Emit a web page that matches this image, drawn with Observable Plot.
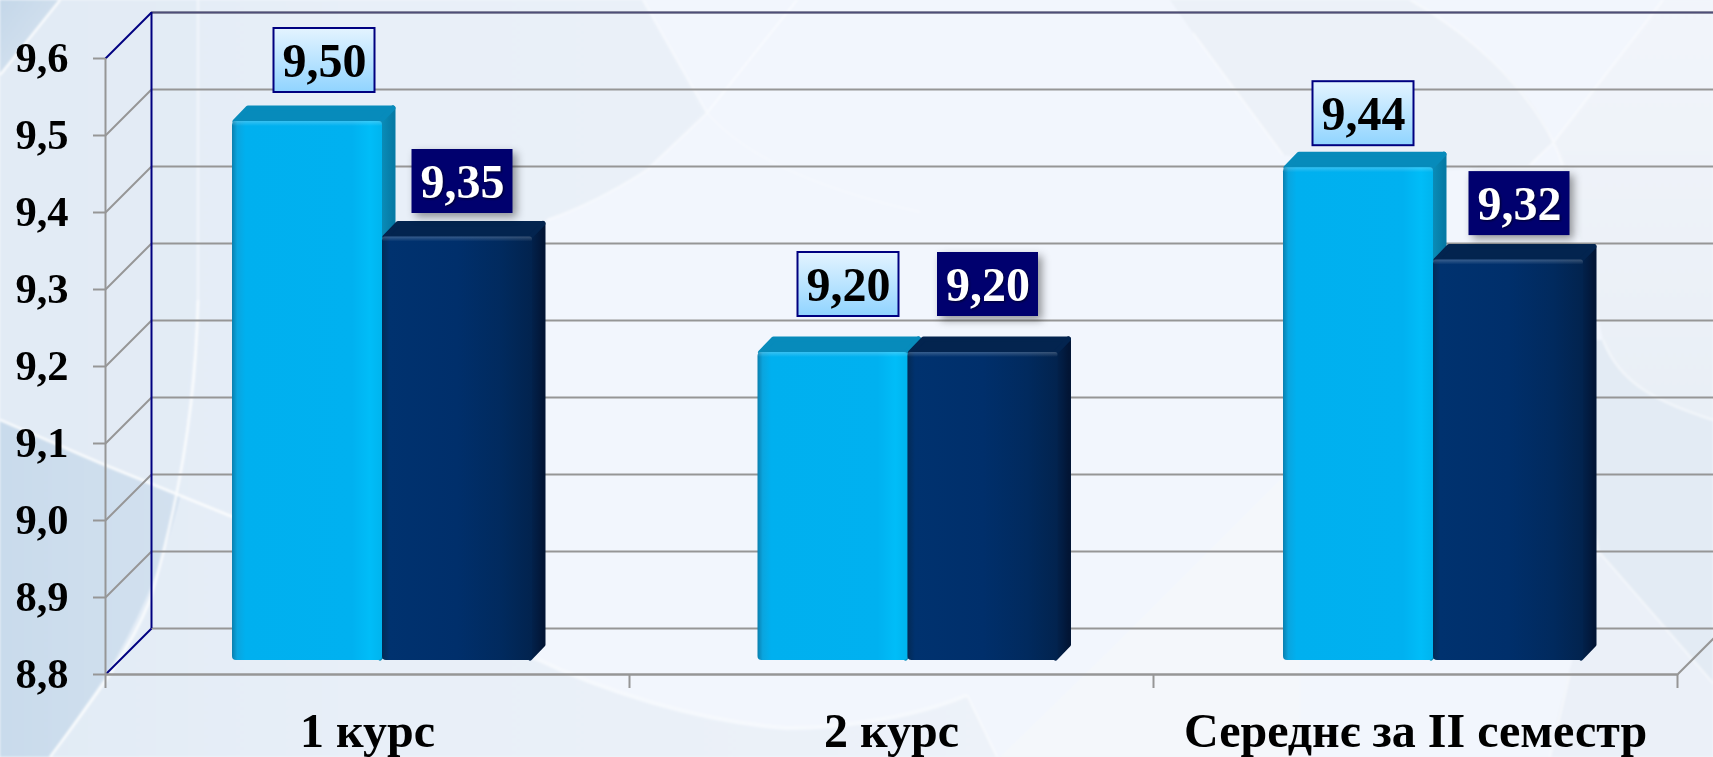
<!DOCTYPE html>
<html><head><meta charset="utf-8">
<script src="https://cdn.jsdelivr.net/npm/d3@7"></script>
<script src="https://cdn.jsdelivr.net/npm/@observablehq/plot@0.6"></script>
<style>
html,body{margin:0;padding:0;width:1713px;height:757px;overflow:hidden;background:#f2f6fd}
#bg{position:absolute;left:0;top:0;z-index:0;filter:blur(.8px)}
#chart{position:absolute;left:0;top:0;z-index:1}
</style></head>
<body>
<svg id="bg" width="1713" height="757" viewBox="0 0 1713 757">
<defs>
<linearGradient id="leftZone" x1="0" y1="0" x2="1" y2="0">
<stop offset="0" stop-color="#e1ebf5"/><stop offset=".35" stop-color="#e8eff8"/><stop offset="1" stop-color="#edf2f9"/>
</linearGradient>
<linearGradient id="corner" x1="0" y1="0" x2="1" y2="1">
<stop offset="0" stop-color="#c4d7e9"/><stop offset="1" stop-color="#dbe6f2"/>
</linearGradient>
<linearGradient id="low" x1="0" y1="0" x2="1" y2="0">
<stop offset="0" stop-color="#c9dbec"/><stop offset="1" stop-color="#d3e1ef"/>
</linearGradient>
<linearGradient id="rightTop" x1="0" y1="0" x2="0" y2="1">
<stop offset="0" stop-color="#f2f5fb"/><stop offset="1" stop-color="#e9eff6"/>
</linearGradient>
</defs>
<rect width="1713" height="757" fill="#f2f6fd"/>
<path d="M0,0H643L707,113L647,170C600,200 570,212 547,220C480,280 470,500 533,657C600,690 700,722 787,728C850,728 920,715 967,695L997,757H0Z" fill="url(#leftZone)"/>
<path d="M197,0H0V420L100,463L180,497L197,300Z" fill="#e2ebf5" opacity=".7"/>
<path d="M0,0H60L0,75Z" fill="url(#corner)"/>
<path d="M0,420L100,463L180,497C165,560 140,620 103,680L50,757H0Z" fill="url(#low)"/>
<path d="M533,657C600,690 700,722 787,728C850,728 920,715 967,695" fill="none" stroke="#f6f9fd" stroke-width="4"/>
<path d="M1170,0L1193,33L1283,155L1420,172L1530,165L1553,143C1540,100 1480,40 1410,0Z" fill="#ecf1f8"/>
<path d="M1553,143L1663,0H1713V420C1660,403 1620,385 1603,340L1563,165Z" fill="url(#rightTop)"/>
<path d="M1603,340C1620,385 1660,403 1713,420V683L1600,553L1560,340Z" fill="#e3ebf4"/>
<path d="M1600,553L1713,683V757H1550C1555,720 1570,673 1600,553Z" fill="#ebf0f8"/>
<path d="M1000,757L1120,640L1300,460L1300,757Z" fill="#f4f7fb"/>
<g fill="none" stroke="#fff" stroke-width="2.5" opacity=".85">
<path d="M60,0L0,75"/>
<path d="M0,420L100,463L233,517"/>
<path d="M198,300C196,400 180,500 150,600C130,650 100,690 50,757"/>
</g>
<g fill="none" stroke="#fff" stroke-width="2.5" opacity=".45">
<path d="M198,0V300"/>
<path d="M967,695L997,757"/>
<path d="M643,0L707,113"/>
<path d="M797,0L707,113L647,170C600,200 570,212 547,220"/>
<path d="M707,113C740,150 800,185 920,212" opacity=".5"/>
<path d="M1193,33L1283,155"/>
<path d="M1410,0C1480,40 1540,100 1563,165"/>
<path d="M1663,0L1553,143L1530,165"/>
<path d="M1603,340C1620,385 1660,403 1713,420"/>
<path d="M1600,553L1713,683"/>
<path d="M1570,673L1550,757"/>
</g>
</svg>
<div id="chart"></div>
<script>
// --- data ---
const categories = ["1 курс", "2 курс", "Середнє за II семестр"];
const seriesA = [9.50, 9.20, 9.44];
const seriesB = [9.35, 9.20, 9.32];
const yTicks = [8.8, 8.9, 9.0, 9.1, 9.2, 9.3, 9.4, 9.5, 9.6];
const xBoundaries = [0, 1, 2, 3];

// --- layout (px) ---
const W = 1713, H = 757;
const left = 105, right = 1677, top0 = 58, bottom0 = 674;
const pxX = (right - left) / 3, pxY = (bottom0 - top0) / 0.8;
const wall = 46, barNear = 14, barFar = 30, sideW = 13, round = 2.5;
const barW = 150, barInset = 113, barDrift = 1.5;
const fmt = v => v.toFixed(2).replace(".", ",");
const ux = p => p / pxX, uy = p => p / pxY;
const yMin = 8.8, yMax = 9.6;

// per-label nudges of the value boxes from the bar's centre (dx, gap above the bar's back edge)
const labelNudgeA = [[17, 13], [15.5, 20], [5, 6]];
const labelNudgeB = [[5, 7.5], [5, 20], [11, 8.5]];
const boxW = 101, boxH = 64;

function faces(i, v, s) {
  const x0 = i + ux(barNear + barInset + i * barDrift + s * barW), x1 = x0 + ux(barW);
  const yT = v + uy(barNear), yB = yMin + uy(barNear);
  const dx = ux(sideW), dy = uy(barFar - barNear);
  const rx = ux(round), ry = uy(round);
  const side = [[x1 - rx, yT], [x1 + dx - rx, yT + dy - ry], [x1 + dx - rx, yB + dy], [x1 - rx, yB + ry], [x1 - rx, yT]];
  const top = [[x0 + rx, yT], [x0 + dx + rx, yT + dy - ry], [x1 + dx - rx, yT + dy - ry], [x1 - rx, yT], [x0 + rx, yT]];
  return {x0, x1, yT, yB, sheen: yT - uy(5), side, top, i};
}
const polyRows = (fn, s, vals) => vals.flatMap((v, i) => fn(faces(i, v, s)).map(p => ({x: p[0], y: p[1], k: i})));

function barMarks(vals, s, fillFront, fillSide, fillTop) {
  const rects = vals.map((v, i) => faces(i, v, s));
  const poly = (f, c) => Plot.line(polyRows(f, s, vals), {x: "x", y: "y", z: "k", fill: c, stroke: c, strokeWidth: round * 2, strokeLinejoin: "round"});
  return [
    poly(d => d.side, fillSide),
    poly(d => d.top, fillTop),
    Plot.rect(rects, {x1: "x0", x2: "x1", y1: "yB", y2: "yT", fill: fillFront, r: 4}),
    Plot.rect(rects, {x1: "x0", x2: "x1", y1: "sheen", y2: "yT", fill: "url(#sheen)", r: 3})
  ];
}

function labelRows(vals, s, nudge) {
  return vals.map((v, i) => {
    const f = faces(i, v, s);
    const cx = (f.x0 + f.x1) / 2 + ux(nudge[i][0]);
    const bottom = v + uy(barFar + nudge[i][1]);
    return {cx, x1: cx - ux(boxW / 2), x2: cx + ux(boxW / 2), y1: bottom, y2: bottom + uy(boxH), cy: bottom + uy(boxH / 2), t: fmt(v)};
  });
}
const rowsA = labelRows(seriesA, 0, labelNudgeA);
const rowsB = labelRows(seriesB, 1, labelNudgeB);

const defs = () => {
  const d = d3.create("svg:defs");
  const grad = (id, stops, v) => {
    const g = d.append("linearGradient").attr("id", id).attr("x1", 0).attr("y1", 0).attr("x2", v ? 0 : 1).attr("y2", v ? 1 : 0);
    stops.forEach(([o, c, a]) => { const st = g.append("stop").attr("offset", o).attr("stop-color", c); if (a !== undefined) st.attr("stop-opacity", a); });
  };
  grad("frontA", [[0, "#0a7fae"], [.035, "#0aa5df"], [.09, "#00b0ef"], [.8, "#00b1f0"], [.92, "#00bdf8"], [1, "#00b4ee"]]);
  grad("frontB", [[0, "#032a55"], [.05, "#00326f"], [.5, "#002f6b"], [.8, "#012a5e"], [1, "#02234e"]]);
  grad("sideA", [[0, "#0a8fbb"], [1, "#067aa5"]]);
  grad("sideB", [[0, "#02234e"], [.6, "#021b40"], [1, "#021535"]]);
  grad("sheen", [[0, "#ffffff", .22], [1, "#ffffff", 0]], true);
  grad("boxA", [[0, "#e4f4ff"], [1, "#90d4ff"]], true);
  return d.node();
};

const wallX = ux(wall), wallY = uy(wall);
const grey = "#969696", navy = "#000080";

const chart = Plot.plot({
  width: W, height: H,
  marginLeft: left, marginRight: W - right, marginTop: top0, marginBottom: H - bottom0,
  style: {background: "transparent", fontFamily: "'Liberation Serif', serif", color: "#000"},
  x: {type: "linear", domain: [0, 3], range: [left, right], axis: null},
  y: {type: "linear", domain: [yMin, yMax], range: [bottom0, top0], axis: null},
  marks: [
    defs,
    // back wall grid
    Plot.ruleY(yTicks, {y: d => d + wallY, x1: wallX, x2: 3 + wallX * 2, stroke: grey, strokeWidth: 2}),
    Plot.ruleY([yMax], {y: d => d + wallY, x1: wallX, x2: 3 + wallX * 2, stroke: "#4e4e78", strokeWidth: 2}),
    // side wall
    Plot.link(yTicks, {x1: 0, y1: d => d, x2: wallX, y2: d => d + wallY, stroke: d => (d === yMin || d === yMax) ? navy : grey, strokeWidth: 2}),
    Plot.ruleX([wallX], {y1: yMin + wallY, y2: yMax + wallY, stroke: navy, strokeWidth: 2}),
    // floor edge at right
    Plot.link([yMin], {x1: 3, y1: d => d, x2: 3 + wallX, y2: d => d + wallY, stroke: grey, strokeWidth: 2}),
    // axes
    Plot.axisY(yTicks, {anchor: "left", tickSize: 12, tickPadding: 25, stroke: grey, strokeWidth: 2, tickFormat: d => d.toFixed(1).replace(".", ","), fontSize: 42.5, fontWeight: "bold", fill: "#000", fontFamily: "Liberation Serif", label: null, textStroke: "none"}),
    Plot.ruleX([0], {y1: yMin, y2: yMax, stroke: grey, strokeWidth: 2}),
    Plot.ruleY([yMin], {x1: 0, x2: 3, stroke: grey, strokeWidth: 2.5}),
    Plot.ruleX(xBoundaries, {x: d => d, y1: yMin, y2: yMin - uy(14), stroke: grey, strokeWidth: 2}),
    // bars
    ...barMarks(seriesA, 0, "url(#frontA)", "url(#sideA)", "#078bbb"),
    ...barMarks(seriesB, 1, "url(#frontB)", "url(#sideB)", "#03244f"),
    // value boxes
    Plot.rect(rowsA, {x1: "x1", x2: "x2", y1: "y1", y2: "y2", fill: "url(#boxA)", stroke: navy, strokeWidth: 2}),
    Plot.rect(rowsB, {x1: "x1", x2: "x2", y1: "y1", y2: "y2", fill: "#00006e", imageFilter: "drop-shadow(4px 4px 4px rgba(0,0,0,.4))"}),
    Plot.text(rowsA, {x: "cx", y: "cy", text: "t", fill: "#000", fontSize: 48, fontWeight: "bold", fontFamily: "Liberation Serif", dy: 1}),
    Plot.text(rowsB, {x: "cx", y: "cy", text: "t", fill: "#fff", fontSize: 48, fontWeight: "bold", fontFamily: "Liberation Serif", dy: 1, imageFilter: "drop-shadow(1px 1px 1px rgba(0,0,0,.6))"}),
    // category labels
    Plot.text(categories, {x: (d, i) => i + 0.5, y: () => yMin, text: d => d, fill: "#000", fontSize: 48, fontWeight: "bold", fontFamily: "Liberation Serif", dy: 57})
  ]
});
document.getElementById("chart").append(chart);
</script>
</body></html>
